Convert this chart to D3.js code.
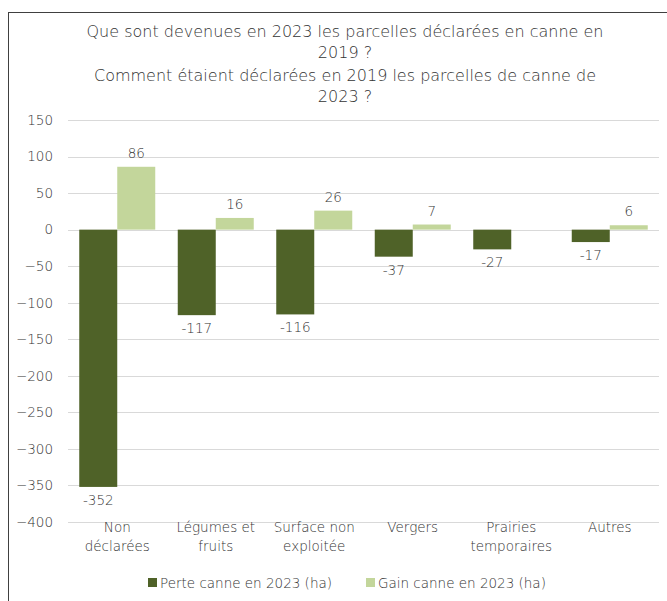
<!DOCTYPE html>
<html><head><meta charset="utf-8">
<script src="https://cdn.jsdelivr.net/npm/d3@7"></script>
<style>
body{margin:0;background:#fff;}
text{font-family:"DejaVu Sans",sans-serif;font-weight:200;fill:#333;}
</style></head>
<body><svg id="c" width="667" height="601"></svg>
<script>
const categories = [["Non","déclarées"],["Légumes et","fruits"],["Surface non","exploitée"],["Vergers"],["Prairies","temporaires"],["Autres"]];
const perte = [-352,-117,-116,-37,-27,-17];
const gain = [86,16,26,7,null,6];
const yTicks = [150,100,50,0,-50,-100,-150,-200,-250,-300,-350,-400];
const seriesNames = ["Perte canne en 2023 (ha)","Gain canne en 2023 (ha)"];
const colors = ["#4f6228","#c3d69b"];
const titleLines = ["Que sont devenues en 2023 les parcelles déclarées en canne en","2019 ?","Comment étaient déclarées en 2019 les parcelles de canne de","2023 ?"];

const svg = d3.select("#c");
svg.append("rect").attr("x",8.5).attr("y",12.5).attr("width",700).attr("height",700)
  .attr("fill","none").attr("stroke","#404040").attr("stroke-width",1);

const x = d3.scaleBand().domain(d3.range(categories.length)).range([68,659]);
const y = d3.scaleLinear().domain([-400,150]).range([522,120]);

titleLines.forEach((t,i)=>{
  svg.append("text").attr("x",345).attr("y",[37,58,81,102][i]).attr("text-anchor","middle")
    .style("font-size","16px").text(t);
});

svg.append("g").selectAll("line").data(yTicks).join("line")
  .attr("x1",68).attr("x2",659).attr("y1",d=>Math.round(y(d))+0.5).attr("y2",d=>Math.round(y(d))+0.5)
  .attr("stroke","#d9d9d9").attr("stroke-width",1);

const yAxis = d3.axisLeft(y).tickValues(yTicks).tickSize(0).tickPadding(0);
const ga = svg.append("g").attr("transform","translate(53,0)").call(yAxis);
ga.select(".domain").remove();
ga.selectAll("text").style("font-size","13.5px").style("font-family","'DejaVu Sans',sans-serif").attr("fill","#333");

const bw = 38;
const data = [perte,gain];
data.forEach((vals,s)=>{
  vals.forEach((v,i)=>{
    if(v===null) return;
    const cx = x(i)+x.bandwidth()/2;
    const bx = s===0 ? cx-bw : cx;
    svg.append("rect").attr("x",bx).attr("width",bw)
      .attr("y",y(Math.max(0,v))).attr("height",Math.abs(y(v)-y(0)))
      .attr("fill",colors[s]);
    svg.append("text").attr("x",bx+bw/2)
      .attr("y", v>=0 ? y(v)-9 : y(v)+18)
      .attr("text-anchor","middle").style("font-size","13.5px").text(v);
  });
});

categories.forEach((lines,i)=>{
  const cx = x(i)+x.bandwidth()/2;
  lines.forEach((l,j)=>{
    svg.append("text").attr("x",cx).attr("y",532+j*19).attr("text-anchor","middle")
      .style("font-size","13.5px").text(l);
  });
});

const legX = [148,366];
seriesNames.forEach((n,i)=>{
  svg.append("rect").attr("x",legX[i]).attr("y",578).attr("width",9).attr("height",9).attr("fill",colors[i]);
  svg.append("text").attr("x",legX[i]+12).attr("y",588).style("font-size","13.5px").text(n);
});
</script></body></html>
